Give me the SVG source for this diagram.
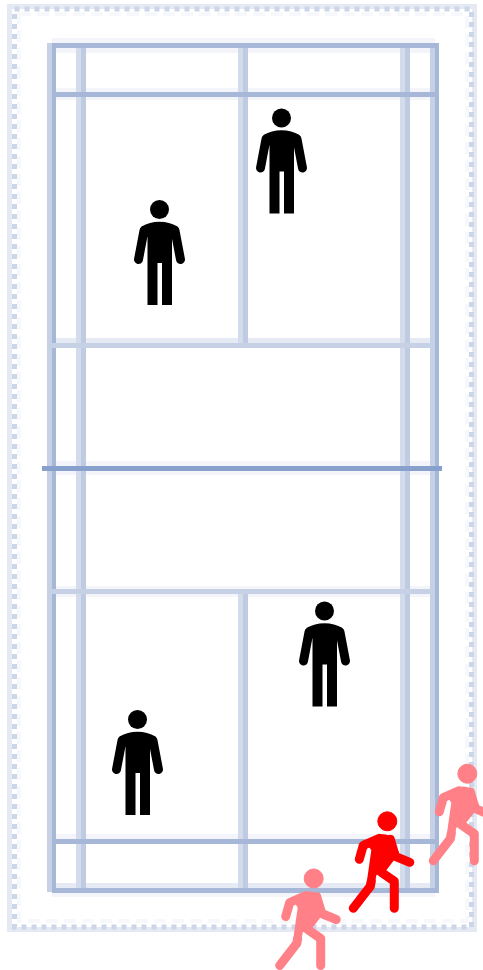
<svg xmlns="http://www.w3.org/2000/svg" width="483" height="970" viewBox="0 0 483 970">
<style>
.halo{fill:#e6eaf4}
.faint{fill:#f3f5fa}
.soft{fill:#d4dcec}
.mid{fill:#c6d1e5}
.mid2{fill:#bfcbe2}
.str{fill:#a6b7d8}
.ctr{fill:#88a1cc}
.dl{fill:none;stroke:#e4e9f3;stroke-width:5}
.dd{fill:none;stroke:#ccd6e8;stroke-width:5;stroke-dasharray:5 5}
.dt{fill:none;stroke:#f6f8fc;stroke-width:4;stroke-dasharray:12 6}
.arm{fill:none;stroke:#000;stroke-width:9;stroke-linecap:round;stroke-linejoin:round}
.run{fill:none;stroke-width:9;stroke-linecap:round;stroke-linejoin:round}
</style>
<defs>
<g id="stand">
<circle cx="0" cy="0" r="9.500" fill="#000"/>
<path d="M-12,95.500V28L-18,17Q-10,12.300 0,12.300Q10,12.300 18,17L12.500,28V95.500H2.500V53.500H-2V95.500Z" fill="#000"/>
<path class="arm" d="M-15.500,21L-21,50M15.500,21L21,50"/>
</g>
<g id="runner">
<circle cx="0" cy="0" r="9.500"/>
<path stroke="none" d="M-22,20L-6,13Q3,12 6,19L12,32L-1,49L-11,54L-13,66L-21,64L-16,29Z"/>
<path class="run" d="M-28,38L-24,24L-8,17M3,18L8,35L22.500,41M-16,60L-17,65L-34,87M-6,51L7,60V87"/>
</g>
</defs>
<rect width="483" height="970" fill="#fff"/>
<g id="outer-boundary">
<rect x="19" y="14" width="448" height="907" class="dt"/>
<rect x="9.500" y="6.500" width="465" height="923" class="dl"/>
<rect x="14.500" y="9" width="457" height="918" class="dd"/>
</g>
<g id="court">
<rect x="52" y="38" width="383" height="5" class="faint"/>
<rect x="52" y="48" width="383" height="5" class="faint"/>
<rect x="56" y="88" width="376" height="4" class="faint"/>
<rect x="56" y="97" width="376" height="3" class="faint"/>
<rect x="47" y="461" width="388" height="5" class="faint"/>
<rect x="47" y="471" width="388" height="4" class="faint"/>
<rect x="52" y="586" width="383" height="3" class="faint"/>
<rect x="52" y="594" width="383" height="3" class="faint"/>
<rect x="56" y="834" width="380" height="5" class="faint"/>
<rect x="52" y="893" width="383" height="4" class="faint"/>
<rect x="52" y="883" width="383" height="5" class="halo"/>
<rect x="52" y="338" width="383" height="5" class="halo"/>
<rect x="47" y="43" width="5" height="849" class="mid"/>
<rect x="76" y="43" width="5" height="849" class="soft"/>
<rect x="81" y="43" width="5" height="849" class="mid2"/>
<rect x="400" y="43" width="5" height="849" class="soft"/>
<rect x="405" y="43" width="5" height="849" class="mid2"/>
<rect x="430" y="43" width="5" height="849" class="mid"/>
<rect x="435" y="43" width="4" height="849" class="str"/>
<rect x="52" y="43" width="4" height="849" class="str"/>
<rect x="238" y="48" width="5" height="295" class="soft"/>
<rect x="243" y="48" width="5" height="295" class="mid2"/>
<rect x="238" y="593" width="5" height="295" class="soft"/>
<rect x="243" y="593" width="5" height="295" class="mid2"/>
<rect x="52" y="343" width="383" height="5" class="mid"/>
<rect x="52" y="589" width="383" height="5" class="mid"/>
<rect x="42" y="466" width="400" height="5" class="ctr"/>
<rect x="52" y="43" width="387" height="5" class="str"/>
<rect x="52" y="92" width="383" height="5" class="str"/>
<rect x="52" y="839" width="383" height="5" class="str"/>
<rect x="52" y="888" width="387" height="5" class="str"/>
</g>
<g id="player-1"><use href="#stand" transform="translate(159.500 209.500)"/></g>
<g id="player-2"><use href="#stand" transform="translate(281.500 118)"/></g>
<g id="player-3"><use href="#stand" transform="translate(324.500 611)"/></g>
<g id="player-4"><use href="#stand" transform="translate(137.500 719.500)"/></g>
<g id="runner-pink-left" fill="#ff8087" stroke="#ff8087"><use href="#runner" transform="translate(313.700 878.500)"/></g>
<g id="runner-red" fill="#ff0000" stroke="#ff0000"><use href="#runner" transform="translate(387.300 821.300)"/></g>
<g id="runner-pink-right" fill="#ff8087" stroke="#ff8087"><use href="#runner" transform="translate(467.300 773.700)"/></g>
<g id="connectors"/>
</svg>
